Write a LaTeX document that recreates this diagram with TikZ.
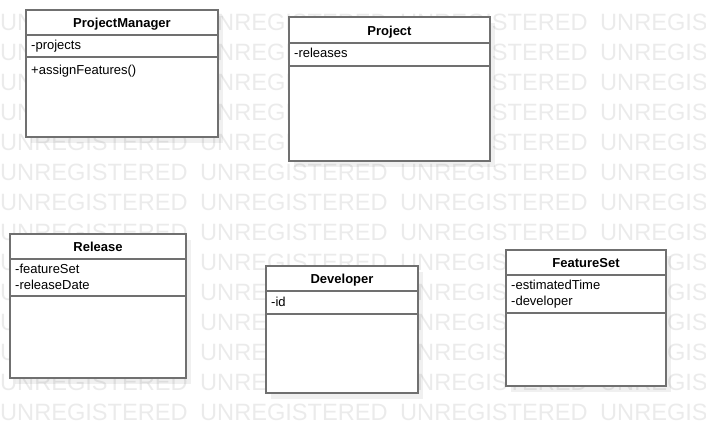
\documentclass[tikz,border=0pt]{standalone}
\usepackage{fontspec}
\setmainfont{Liberation Sans}
\usetikzlibrary{shadows}
\definecolor{boxgray}{HTML}{707070}
\definecolor{markgray}{HTML}{EBEBEB}

\begin{document}
\begin{tikzpicture}[x=1pt, y=-1pt,
	classbox/.style={draw=boxgray, line width=2pt, fill=white, inner sep=0pt, outer sep=0pt,
		drop shadow={fill=black, opacity=0.06, shadow xshift=5pt, shadow yshift=-6pt}},
	sepline/.style={draw=boxgray, line width=2pt},
	classname/.style={font=\fontsize{13}{15}\selectfont\bfseries, inner sep=0pt, anchor=base},
	member/.style={font=\fontsize{13}{15}\selectfont, inner sep=0pt, anchor=base west},
	watermark/.style={font=\fontsize{23.6}{26}\selectfont, text=markgray, inner sep=0pt, anchor=base west}]
			%%%%% START %%%%%
			
			\useasboundingbox (0, 0) rectangle (706, 434);
			
			\foreach \row in {0,...,13}
				\foreach \col in {0,...,3}
					\node[watermark] (mark-\row-\col) at (200*\col, 30.5+30*\row) {UNREGISTERED};
			
			\node[classbox, minimum width=192pt, minimum height=127pt] (pm) at (122, 73.5) {};
			\node[classname] (pmname) at ([yshift=-17pt]pm.north) {ProjectManager};
			\draw[sepline] ([yshift=-25pt]pm.north west) -- ([yshift=-25pt]pm.north east);
			\draw[sepline] ([yshift=-47pt]pm.north west) -- ([yshift=-47pt]pm.north east);
			\node[member] (pmprojects) at ([xshift=5pt, yshift=-39.5pt]pm.north west) {-projects};
			\node[member] (pmassign) at ([xshift=5pt, yshift=-64pt]pm.north west) {+assignFeatures()};
			
			\node[classbox, minimum width=201pt, minimum height=144pt] (project) at (389.5, 89) {};
			\node[classname] (projectname) at ([yshift=-18pt]project.north) {Project};
			\draw[sepline] ([yshift=-26pt]project.north west) -- ([yshift=-26pt]project.north east);
			\draw[sepline] ([yshift=-49pt]project.north west) -- ([yshift=-49pt]project.north east);
			\node[member] (projectreleases) at ([xshift=5pt, yshift=-40.5pt]project.north west) {-releases};
			
			\node[classbox, minimum width=176pt, minimum height=144pt] (release) at (98, 306) {};
			\node[classname] (releasename) at ([yshift=-17.5pt]release.north) {Release};
			\draw[sepline] ([yshift=-25pt]release.north west) -- ([yshift=-25pt]release.north east);
			\draw[sepline] ([yshift=-62pt]release.north west) -- ([yshift=-62pt]release.north east);
			\node[member] (releasefeat) at ([xshift=5pt, yshift=-39pt]release.north west) {-featureSet};
			\node[member] (releasedate) at ([xshift=5pt, yshift=-55pt]release.north west) {-releaseDate};
			
			\node[classbox, minimum width=152pt, minimum height=127pt] (dev) at (342, 329.5) {};
			\node[classname] (devname) at ([yshift=-17.5pt]dev.north) {Developer};
			\draw[sepline] ([yshift=-25pt]dev.north west) -- ([yshift=-25pt]dev.north east);
			\draw[sepline] ([yshift=-48pt]dev.north west) -- ([yshift=-48pt]dev.north east);
			\node[member] (devid) at ([xshift=5pt, yshift=-40.5pt]dev.north west) {-id};
			
			\node[classbox, minimum width=160pt, minimum height=136pt] (fset) at (586, 318) {};
			\node[classname] (fsetname) at ([yshift=-17.5pt]fset.north) {FeatureSet};
			\draw[sepline] ([yshift=-25pt]fset.north west) -- ([yshift=-25pt]fset.north east);
			\draw[sepline] ([yshift=-63pt]fset.north west) -- ([yshift=-63pt]fset.north east);
			\node[member] (fsettime) at ([xshift=5pt, yshift=-39.5pt]fset.north west) {-estimatedTime};
			\node[member] (fsetdev) at ([xshift=5pt, yshift=-55.5pt]fset.north west) {-developer};
			
			%%%%% END %%%%%
\end{tikzpicture}
\end{document}
